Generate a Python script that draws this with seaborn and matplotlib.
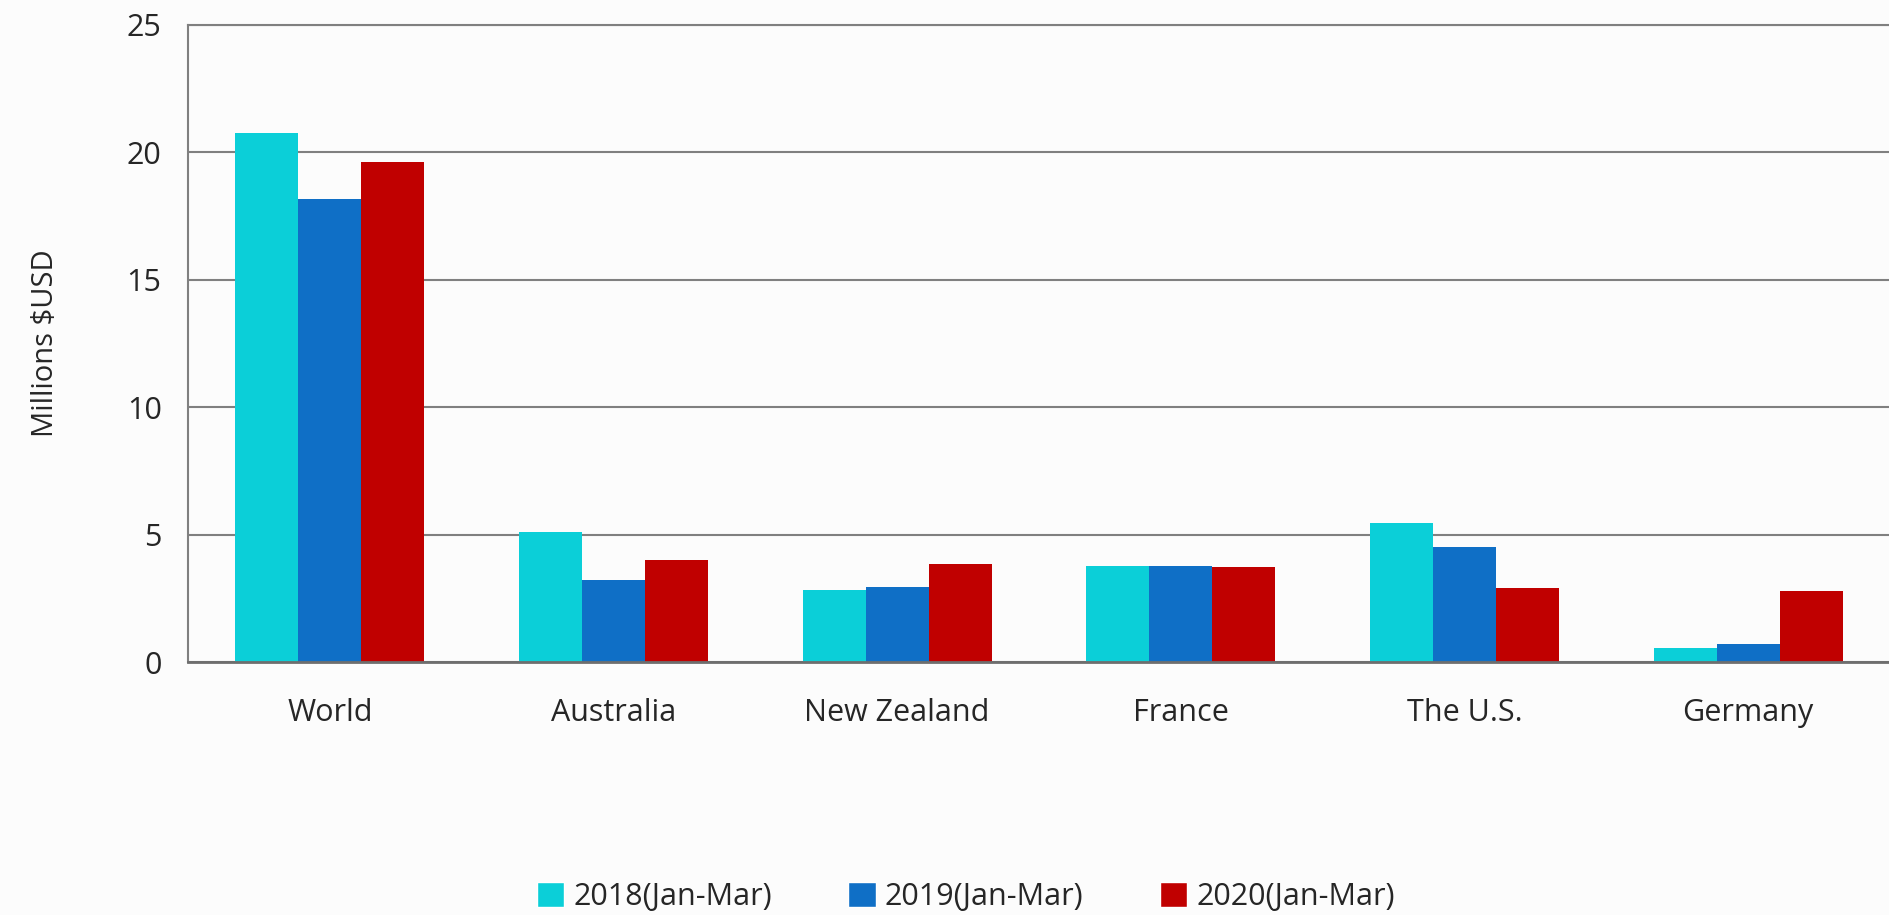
import matplotlib
matplotlib.use("Agg")
import matplotlib.pyplot as plt
import seaborn as sns
import pandas as pd
from matplotlib.patches import Patch

categories = ["World", "Australia", "New Zealand", "France", "The U.S.", "Germany"]
series = ["2018(Jan-Mar)", "2019(Jan-Mar)", "2020(Jan-Mar)"]
v2018 = [20.75, 5.09, 2.84, 3.78, 5.46, 0.55]
v2019 = [18.17, 3.21, 2.94, 3.75, 4.53, 0.71]
v2020 = [19.62, 3.99, 3.83, 3.71, 2.89, 2.77]
colors = ["#0BCFD8", "#0F6FC6", "#C00000"]

rows = []
for s, vals in zip(series, [v2018, v2019, v2020]):
    for c, v in zip(categories, vals):
        rows.append({"Country": c, "Period": s, "Value": v})
df = pd.DataFrame(rows)

sns.set_theme(style="white")
plt.rcParams["font.family"] = ["Open Sans", "DejaVu Sans"]

fig = plt.figure(figsize=(18.9, 9.15), dpi=100)
fig.patch.set_facecolor("#fcfcfc")
ax = fig.add_axes([188/1890, 1 - 662/915, 1 - 188/1890, (662 - 25)/915])
ax.set_facecolor("#fcfcfc")

sns.barplot(data=df, x="Country", y="Value", hue="Period", order=categories,
            hue_order=series, palette=colors, width=0.667, gap=0,
            saturation=1, ax=ax, legend=False, linewidth=0)

ax.set_ylim(0, 25)
ax.set_yticks([0, 5, 10, 15, 20, 25])
ax.set_xlim(-0.5, len(categories) - 0.5)
ax.yaxis.grid(True, color="#808080", linewidth=1.5)
ax.set_axisbelow(True)
ax.spines["right"].set_visible(False)
ax.spines["left"].set_color("#808080")
ax.spines["left"].set_linewidth(1.5)
ax.spines["top"].set_color("#808080")
ax.spines["top"].set_linewidth(1.5)
ax.spines["bottom"].set_color("#6e6e6e")
ax.spines["bottom"].set_linewidth(2)

ax.set_xlabel("")
ax.set_ylabel("Millions $USD", fontsize=21, labelpad=48)
ax.tick_params(axis="y", labelsize=22, pad=19, length=0)
ax.tick_params(axis="x", labelsize=22, pad=26, length=0)

handles = [Patch(facecolor=c, label=s) for c, s in zip(colors, series)]
fig.legend(handles=handles, loc="center", bbox_to_anchor=(0.511, 1 - 897/915),
           ncol=3, frameon=False, fontsize=22, handlelength=0.9, handleheight=0.9,
           handletextpad=0.3, columnspacing=2.5)

fig.savefig("out.png", dpi=100, facecolor=fig.get_facecolor())
